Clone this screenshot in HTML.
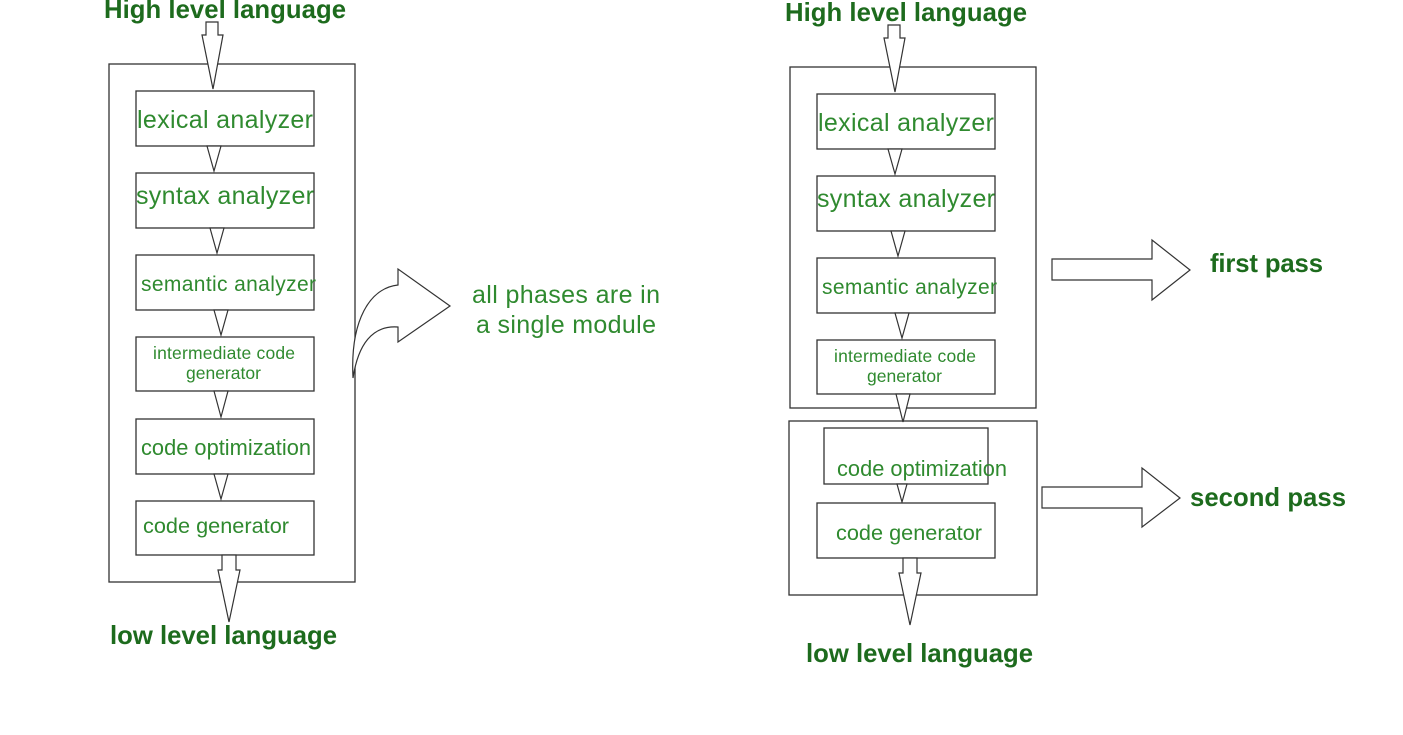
<!DOCTYPE html>
<html><head><style>
body{margin:0;background:#fff;}
svg text{font-family:"Liberation Sans",sans-serif;}
.t{fill:#2f8a2f;font-size:25px}
.s{fill:#2f8a2f;font-size:17.5px}
.b{fill:#1d6b1d;font-size:25.7px;font-weight:bold}
rect{fill:#fff;stroke:#333;stroke-width:1.3}
.a{fill:#fff;stroke:#333;stroke-width:1.2}
</style></head><body>
<svg width="1403" height="730" xmlns="http://www.w3.org/2000/svg">
<!-- LEFT -->
<text class="b" x="104" y="18" textLength="242">High level language</text>
<rect x="109" y="64" width="246" height="518"/>
<polygon class="a" points="206,22 218,22 218,35 223,35 213,89 202,35 206,35"/>
<rect x="136" y="91" width="178" height="55"/>
<rect x="136" y="173" width="178" height="55"/>
<rect x="136" y="255" width="178" height="55"/>
<rect x="136" y="337" width="178" height="54"/>
<rect x="136" y="419" width="178" height="55"/>
<rect x="136" y="501" width="178" height="54"/>
<polygon class="a" points="207,146 221,146 214,171"/>
<polygon class="a" points="210,228 224,228 217,253"/>
<polygon class="a" points="214,310 228,310 221,335"/>
<polygon class="a" points="214,391 228,391 221,417"/>
<polygon class="a" points="214,474 228,474 221,499"/>
<polygon class="a" points="222,555 236,555 236,570 240,570 229,622 218,570 222,570"/>
<text class="t" x="137" y="128" textLength="176">lexical analyzer</text>
<text class="t" x="136" y="204" textLength="178">syntax analyzer</text>
<text class="t" x="141" y="291" style="font-size:21px" textLength="175">semantic analyzer</text>
<text class="s" x="153" y="359" textLength="142">intermediate code</text>
<text class="s" x="186" y="379">generator</text>
<text class="t" x="141" y="455" style="font-size:21.8px" textLength="170">code optimization</text>
<text class="t" x="143" y="533" style="font-size:21.7px" textLength="146">code generator</text>
<text class="b" x="110" y="644" textLength="227">low level language</text>
<path class="a" d="M353,378 C350,320 370,288 398,285 L398,269 L450,306 L398,342 L398,327 C372,325 358,345 353,378 Z"/>
<text class="t" x="472" y="303" textLength="188">all phases are in</text>
<text class="t" x="476" y="333" textLength="180">a single module</text>
<!-- RIGHT -->
<text class="b" x="785" y="21" textLength="242">High level language</text>
<rect x="790" y="67" width="246" height="341"/>
<polygon class="a" points="888,25 900,25 900,38 905,38 895,92 884,38 888,38"/>
<rect x="817" y="94" width="178" height="55"/>
<rect x="817" y="176" width="178" height="55"/>
<rect x="817" y="258" width="178" height="55"/>
<rect x="817" y="340" width="178" height="54"/>
<polygon class="a" points="888,149 902,149 895,174"/>
<polygon class="a" points="891,231 905,231 898,256"/>
<polygon class="a" points="895,313 909,313 902,338"/>
<text class="t" x="818" y="131" textLength="176">lexical analyzer</text>
<text class="t" x="817" y="207" textLength="178">syntax analyzer</text>
<text class="t" x="822" y="294" style="font-size:21px" textLength="175">semantic analyzer</text>
<text class="s" x="834" y="362" textLength="142">intermediate code</text>
<text class="s" x="867" y="382">generator</text>
<rect x="789" y="421" width="248" height="174"/>
<polygon class="a" points="896,394 910,394 903,422"/>
<rect x="824" y="428" width="164" height="56"/>
<polygon class="a" points="897,484 907,484 902,502"/>
<rect x="817" y="503" width="178" height="55"/>
<polygon class="a" points="903,558 917,558 917,573 921,573 910,625 899,573 903,573"/>
<text class="t" x="837" y="476" style="font-size:21.8px" textLength="170">code optimization</text>
<text class="t" x="836" y="540" style="font-size:21.7px" textLength="146">code generator</text>
<text class="b" x="806" y="662" textLength="227">low level language</text>
<polygon class="a" points="1052,259 1152,259 1152,240 1190,270 1152,300 1152,280 1052,280"/>
<text class="b" x="1210" y="272" textLength="113">first pass</text>
<polygon class="a" points="1042,487 1142,487 1142,468 1180,498 1142,527 1142,508 1042,508"/>
<text class="b" x="1190" y="506" textLength="156">second pass</text>
</svg>
</body></html>
